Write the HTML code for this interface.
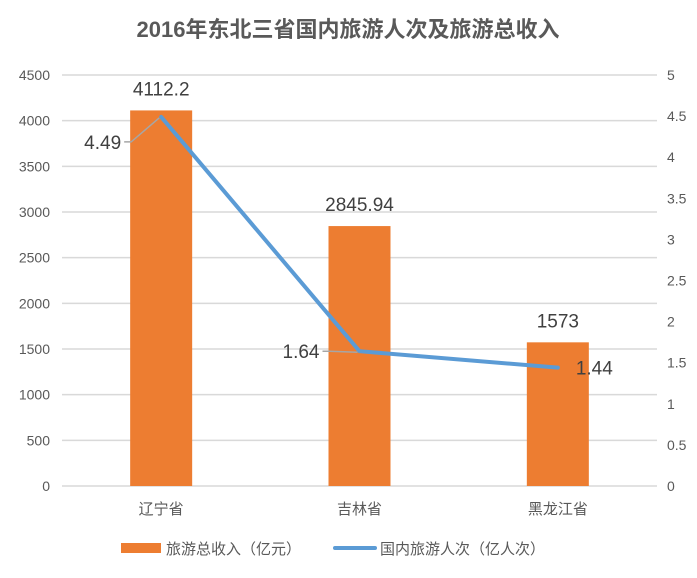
<!DOCTYPE html>
<html><head><meta charset="utf-8"><style>
body{margin:0;background:#fff;width:697px;height:573px;overflow:hidden}
text{font-family:"Liberation Sans","Noto Sans CJK SC",sans-serif}
</style></head><body>
<svg id="chart" width="697" height="573" xmlns="http://www.w3.org/2000/svg">
<text x="348" y="37" text-anchor="middle" font-size="22" font-weight="bold" fill="#595959">2016年东北三省国内旅游人次及旅游总收入</text>
<g id="grid"></g><g id="bars"></g><g id="line"></g><g id="labels"></g>
<g>
<rect x="121" y="543" width="40" height="10" fill="#ED7D31"/>
<text x="166" y="554" font-size="15" fill="#595959">旅游总收入（亿元）</text>
<line x1="335" y1="548" x2="375" y2="548" stroke="#5B9BD5" stroke-width="4" stroke-linecap="round"/>
<text x="380" y="554" font-size="15" fill="#595959">国内旅游人次（亿人次）</text>
</g>
</svg>
<script>
const categories=["辽宁省","吉林省","黑龙江省"];
const revenue=[4112.2,2845.94,1573];
const visitors=[4.49,1.64,1.44];
const leftTicks=[0,500,1000,1500,2000,2500,3000,3500,4000,4500];
const rightTicks=[0,0.5,1,1.5,2,2.5,3,3.5,4,4.5,5];
const NS="http://www.w3.org/2000/svg";
const x0=62,x1=657,yb=486,yt=75;
const yL=v=>yb-(v/4500)*(yb-yt);
const yR=v=>yb-(v/5)*(yb-yt);
const band=(x1-x0)/categories.length;
const xC=i=>x0+band*(i+0.5);
function mk(t,a,p){const e=document.createElementNS(NS,t);for(const k in a)e.setAttribute(k,a[k]);document.getElementById(p).appendChild(e);return e;}
leftTicks.forEach(v=>{
 const l=mk('line',{x1:x0,x2:x1,y1:yL(v),y2:yL(v),stroke:'#d9d9d9','stroke-width':1.5},'grid');
 
 
 const t=mk('text',{x:50,y:yL(v)+5,'text-anchor':'end','font-size':14,fill:'#595959'},'grid');
 t.textContent=v;
 
 
});
rightTicks.forEach(v=>{
 const t=mk('text',{x:667,y:yR(v)+5,'font-size':14,fill:'#595959'},'grid');
 t.textContent=v;
 
 
});
categories.forEach((c,i)=>{
 const r=mk('rect',{x:xC(i)-31,y:yL(revenue[i]),width:62,height:yb-yL(revenue[i]),fill:'#ED7D31'},'bars');
 
 
 const t=mk('text',{x:xC(i),y:yL(revenue[i])-15,'text-anchor':'middle','font-size':19,fill:'#404040'},'labels');
 t.textContent=revenue[i];
 
 
 const ct=mk('text',{x:xC(i),y:514,'text-anchor':'middle','font-size':15,fill:'#595959'},'labels');
 ct.textContent=c;
 
 
});
const pts=visitors.map((v,i)=>xC(i)+','+yR(v)).join(' ');
const pl=mk('polyline',{points:pts,fill:'none',stroke:'#5B9BD5','stroke-width':4,'stroke-linejoin':'round','stroke-linecap':'round'},'line');


// label offsets relative to point: [dx, dy, anchor]
const lblOff=[[-40,25,'end'],[-40,0,'end'],[18,0,'start']];
visitors.forEach((v,i)=>{
 const px=xC(i),py=yR(v);
 const lx=px+lblOff[i][0],ly=py+lblOff[i][1];
 if(i<2){
  const ll=mk('polyline',{points:(px-2)+','+(py+1)+' '+(lx+10)+','+ly+' '+(lx+3)+','+ly,fill:'none',stroke:'#a6a6a6','stroke-width':1.5},'labels');
  
  
 }
 const t=mk('text',{x:lx,y:ly+7,'text-anchor':lblOff[i][2],'font-size':19,fill:'#404040'},'labels');
 t.textContent=v;
 
 
});
</script>
</body></html>
